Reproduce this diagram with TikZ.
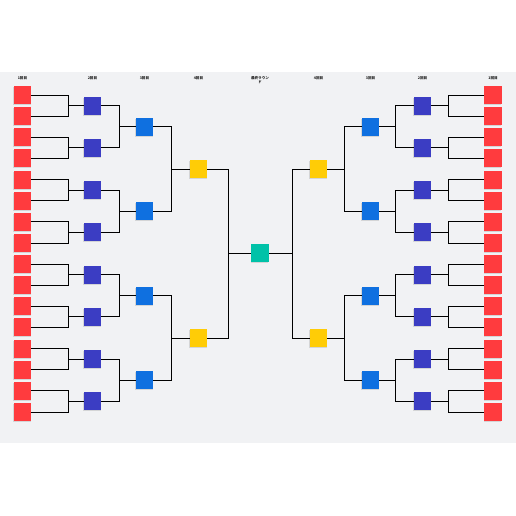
\documentclass[tikz,border=0pt]{standalone}
\usepackage{fontspec}
\newfontfamily\jpfont{Noto Sans CJK JP}
\usetikzlibrary{shadows}

\definecolor{bgGrey}{HTML}{F1F2F4}
\definecolor{roundOne}{HTML}{FF3B3E}
\definecolor{roundTwo}{HTML}{3B3DC3}
\definecolor{roundThree}{HTML}{0F70E0}
\definecolor{roundFour}{HTML}{FFCC06}
\definecolor{finalRound}{HTML}{00C2A8}

\tikzset{
  team/.style={minimum width=17.5pt, minimum height=18pt, inner sep=0pt,
    drop shadow={shadow xshift=-0.6pt, shadow yshift=-1pt, opacity=0.25}},
  bracket/.style={line width=0.8pt, black},
  roundlabel/.style={font=\jpfont\bfseries\fontsize{3.6}{4.4}\selectfont, text=black!85, inner sep=0pt, align=center}
}

\begin{document}
\begin{tikzpicture}[x=1pt, y=-1pt]
\useasboundingbox[fill=white] (0,0) rectangle (516,516);
\fill[bgGrey] (0,72) rectangle (516,443);

% round headers
\node[roundlabel] (hl1) at (22.5,78) {1回目};
\node[roundlabel] (hl2) at (92.5,78) {2回目};
\node[roundlabel] (hl3) at (144.5,78) {3回目};
\node[roundlabel] (hl4) at (198.5,78) {4回目};
\node[roundlabel, anchor=north] (hf) at (260,76) {最終ラウン\\ド};
\node[roundlabel] (hr4) at (318.5,78) {4回目};
\node[roundlabel] (hr3) at (370.5,78) {3回目};
\node[roundlabel] (hr2) at (422.5,78) {2回目};
\node[roundlabel] (hr1) at (493,78) {1回目};

% boxes
\foreach \i in {1,...,16} {
  \node[team, fill=roundOne] (rl\i) at (22.5,{95+21.13*(\i-1)}) {};
  \node[team, fill=roundOne] (rr\i) at (493,{95+21.13*(\i-1)}) {};
}
\foreach \i in {1,...,8} {
  \node[team, fill=roundTwo] (pl\i) at (92.5,{95+21.13*(2*\i-1.5)}) {};
  \node[team, fill=roundTwo] (pr\i) at (422.5,{95+21.13*(2*\i-1.5)}) {};
}
\foreach \i in {1,...,4} {
  \node[team, fill=roundThree] (bl\i) at (144.5,{95+21.13*(4*\i-2.5)}) {};
  \node[team, fill=roundThree] (br\i) at (370.5,{95+21.13*(4*\i-2.5)}) {};
}
\foreach \i in {1,2} {
  \node[team, fill=roundFour] (yl\i) at (198.5,{95+21.13*(8*\i-4.5)}) {};
  \node[team, fill=roundFour] (yr\i) at (318.5,{95+21.13*(8*\i-4.5)}) {};
}
\node[team, fill=finalRound] (g) at (260,{95+21.13*7.5}) {};

% brackets
\foreach \k in {1,...,8} {
  \pgfmathtruncatemacro\a{2*\k-1}
  \pgfmathtruncatemacro\b{2*\k}
  \draw[bracket] (rl\a.east) -- ++(37,0) |- (pl\k.west);
  \draw[bracket] (rl\b.east) -- ++(37,0) |- (pl\k.west);
  \draw[bracket] (rr\a.west) -- ++(-36,0) |- (pr\k.east);
  \draw[bracket] (rr\b.west) -- ++(-36,0) |- (pr\k.east);
}
\foreach \k in {1,...,4} {
  \pgfmathtruncatemacro\a{2*\k-1}
  \pgfmathtruncatemacro\b{2*\k}
  \draw[bracket] (pl\a.east) -- ++(18,0) |- (bl\k.west);
  \draw[bracket] (pl\b.east) -- ++(18,0) |- (bl\k.west);
  \draw[bracket] (pr\a.west) -- ++(-18,0) |- (br\k.east);
  \draw[bracket] (pr\b.west) -- ++(-18,0) |- (br\k.east);
}
\foreach \k in {1,2} {
  \pgfmathtruncatemacro\a{2*\k-1}
  \pgfmathtruncatemacro\b{2*\k}
  \draw[bracket] (bl\a.east) -- ++(18,0) |- (yl\k.west);
  \draw[bracket] (bl\b.east) -- ++(18,0) |- (yl\k.west);
  \draw[bracket] (br\a.west) -- ++(-17,0) |- (yr\k.east);
  \draw[bracket] (br\b.west) -- ++(-17,0) |- (yr\k.east);
}
\draw[bracket] (yl1.east) -- ++(21,0) |- (g.west);
\draw[bracket] (yl2.east) -- ++(21,0) |- (g.west);
\draw[bracket] (yr1.west) -- ++(-17,0) |- (g.east);
\draw[bracket] (yr2.west) -- ++(-17,0) |- (g.east);
\end{tikzpicture}
\end{document}
